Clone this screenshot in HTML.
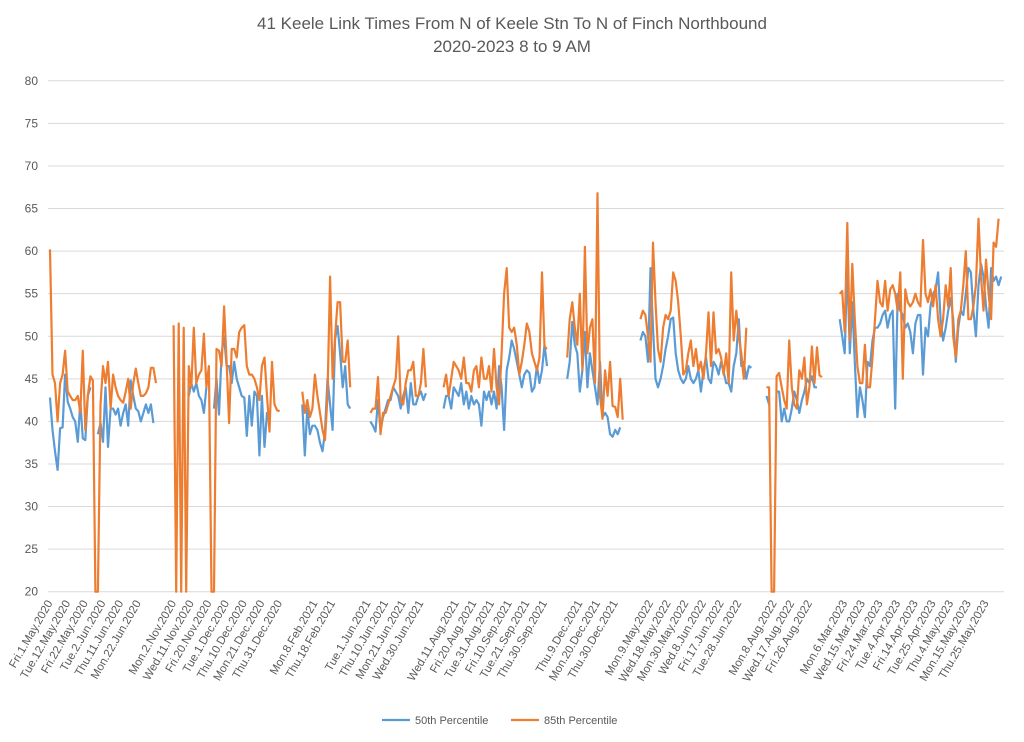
<!DOCTYPE html>
<html><head><meta charset="utf-8"><style>
body{margin:0;background:#fff}
svg{display:block;font-family:"Liberation Sans",sans-serif}
</style></head><body>
<svg id="chart" width="1024" height="742" viewBox="0 0 1024 742">
<rect width="1024" height="742" fill="#fff"/>
<text x="512" y="29" text-anchor="middle" font-size="17" fill="#595959">41 Keele Link Times From N of Keele Stn To N of Finch Northbound</text>
<text x="512" y="52" text-anchor="middle" font-size="17" fill="#595959">2020-2023 8 to 9 AM</text>
<g id="grid"></g><g id="ylabels"></g><g id="xlabels"></g><g id="series"></g>
<g>
<line x1="382" y1="720" x2="410" y2="720" stroke="#5b9bd5" stroke-width="2.2"/>
<text x="415" y="724" font-size="11" fill="#595959">50th Percentile</text>
<line x1="511" y1="720" x2="539" y2="720" stroke="#ed7d31" stroke-width="2.2"/>
<text x="544" y="724" font-size="11" fill="#595959">85th Percentile</text>
</g>
</svg>
<script>
const yTicks=[20,25,30,35,40,45,50,55,60,65,70,75,80];
const xLabels=["Fri.1.May.2020","Tue.12.May.2020","Fri.22.May.2020","Tue.2.Jun.2020","Thu.11.Jun.2020","Mon.22.Jun.2020","Mon.2.Nov.2020","Wed.11.Nov.2020","Fri.20.Nov.2020","Tue.1.Dec.2020","Thu.10.Dec.2020","Mon.21.Dec.2020","Thu.31.Dec.2020","Mon.8.Feb.2021","Thu.18.Feb.2021","Tue.1.Jun.2021","Thu.10.Jun.2021","Mon.21.Jun.2021","Wed.30.Jun.2021","Wed.11.Aug.2021","Fri.20.Aug.2021","Tue.31.Aug.2021","Fri.10.Sep.2021","Tue.21.Sep.2021","Thu.30.Sep.2021","Thu.9.Dec.2021","Mon.20.Dec.2021","Thu.30.Dec.2021","Mon.9.May.2022","Wed.18.May.2022","Mon.30.May.2022","Wed.8.Jun.2022","Fri.17.Jun.2022","Tue.28.Jun.2022","Mon.8.Aug.2022","Wed.17.Aug.2022","Fri.26.Aug.2022","Mon.6.Mar.2023","Wed.15.Mar.2023","Fri.24.Mar.2023","Tue.4.Apr.2023","Fri.14.Apr.2023","Tue.25.Apr.2023","Thu.4.May.2023","Mon.15.May.2023","Thu.25.May.2023"];
const xLabelSlots=[0,1,2,3,4,5,7,8,9,10,11,12,13,15,16,18,19,20,21,23,24,25,26,27,28,30,31,32,34,35,36,37,38,39,41,42,43,45,46,47,48,49,50,51,52,53];
const segStarts=[0,49,100,127,156,205,234,284,313];
const p85=[
[60.2,45.5,44.5,40,44.5,45.5,48.3,43.5,43,42.5,42.5,43,41,48.3,39,43,45.3,44.8,20,20,42,46.5,44.5,47,41.5,45.5,44,43,42.5,42.2,43.5,45,41.5,44.5,46.2,44.5,43,43,43.3,44,46.3,46.3,44.5],
[51.3,20,51.5,20,51,20,46.5,44,51,44.5,45.5,46,50.3,44,46.5,20,20,48.5,48.3,46.5,53.5,47,39.8,48.5,48.5,47.5,50.5,51,51.3,46.5,45.5,45.5,45,44,42.5,46.5,47.5,43,38.8,47,42,41.3,41.2],
[43.5,41,42.5,40.5,41.5,45.5,43,41,39,37.8,43,57,45,50,54,54,47,47,49.5,44],
[41,41.5,41.5,45.2,38.5,41,41,42,43,44,45,50,42.5,42,44.5,46,46,47,43,43,44.5,48.5,44],
[44,45.5,43,45,47,46.5,46,45,47.5,44.5,44.5,43.5,46,46.5,44,47.5,45,45,46.5,43.5,48.5,44,42,48,55,58,51,50.5,51,49,45.5,47,49,51.5,50.5,48,47,46,47.5,57.5,48.8,48.5],
[47.5,52,54,51,49,55,46,60.5,48,51,52,44.5,66.8,43,40.3,46,43,47,41.8,41.7,40.5,45,40.2],
[52,53,52.5,50,47,61,54,48.5,47,51,52.5,52,53,57.5,56.5,54,50,45.5,46,48,49.5,46.5,48.5,46,47,45,48,52.8,46.5,52.8,48,48.5,47.5,45.5,48,44.5,57.5,49.5,53,50,48,45,51],
[44,44,20,20,45.3,45.7,44,42.5,41.5,49.5,44,42,41.5,46,45,47.5,42,44,48.8,44.5,48.7,45.4,45.2],
[55,55.3,50.5,63.3,49.5,58.5,52,46.5,44.5,44.5,49,44,44,47.5,52,56.5,54,53.5,56.5,53,55.5,56,55,53,57.5,45,55.5,54,53.5,54,55,54,53.5,61.3,55,54,55.5,53.5,56,52,50,52,56,53.5,58,50,47.5,52,53,56,60,52,52,53.5,56,63.8,57,53,59,55,52,61,60.5,63.8]
];
const p50=[
[42.8,39,36.5,34.3,39.2,39.3,45.5,42.3,41.5,40.5,40,37.6,42.3,38,37.8,43,44,null,null,38.5,39.8,37.6,44,37,41.5,41.5,40.8,41.5,39.5,41,42,39.5,44.8,43,41.5,41.2,40,41,42,41,42,39.8],
[null,null,null,null,null,null,43,44.5,43.5,44.5,43,42.5,41,44,null,null,41.5,45,40.8,48,50,46.5,46.5,44.5,47,45,44,43,42.8,38.3,43,39.5,43.5,43,36,43,37,41,40.5],
[42,36,41.5,38.5,39.5,39.5,39,37.5,36.5,38.8,45,42,39,49.7,51.2,48,44,46.5,42,41.5],
[40,39.5,38.8,42.5,39,40.5,41.5,42.5,42.5,44,43.5,43,41.5,43,44,41,44.5,42,42,43,43.5,42.5,43.3],
[41.5,43,43,41.5,44,43.5,43,44.5,42,43.5,41.5,43,42,42.5,42,39.5,43.5,42.5,43.5,42,43.5,41.5,46.5,44,39,46,47.5,49.5,48.5,47,45.5,44,45.5,46,45.7,43.5,44,46.5,44.5,46,49,46.5],
[45,47,51.7,49,48,43.5,46,50.5,44,48,46,44,42,47,40.5,41,40.5,38.5,38.2,39,38.5,39.3],
[49.5,50.5,50,47,58,51,45,44,45,46.5,48.5,50,52,52.2,48,46,45,44.5,45,46.5,45,44.5,45,46,43.5,46,47.5,45,44.5,47,46.5,45.5,47,45.8,44.5,44.5,43.5,46.5,48,52,46.5,47,45,46.5,46.3],
[43,42,null,null,43.5,43.5,40,41.5,40,40,41.5,43.5,42.5,41,42.5,43.5,45,44.5,45.3,44,44],
[52,50,48,58.5,48,54,47,40.5,44,42.5,40.5,47,46.5,49.5,51,51,51.5,52.5,53,51,52.5,53,41.5,55,53,52.5,51,51.5,50.5,48,51.5,52.5,52.5,45.5,51,50,53.5,55,55.5,57.5,52,49.5,51,53,54.5,52,47,51,53,52.5,55,58,57.5,53,50,56,58.5,57,53.5,51,58,56.5,57,56,57]
];
const NS="http://www.w3.org/2000/svg";
const plotL=48,plotR=1004,yMin=20,yMax=80,yTop=80.8,yBot=591.7;
function yS(v){return yBot-(v-yMin)/(yMax-yMin)*(yBot-yTop);}
function xS(i){return 50+i*2.523;}
function mk(tag,attrs,parent){const e=document.createElementNS(NS,tag);for(const k in attrs)e.setAttribute(k,attrs[k]);parent.appendChild(e);return e;}
const grid=document.getElementById('grid'),yl=document.getElementById('ylabels'),xl=document.getElementById('xlabels'),ser=document.getElementById('series');
yTicks.forEach(t=>{
  const l=mk('line',{x1:plotL,x2:plotR,y1:yS(t),y2:yS(t),stroke:'#d9d9d9','stroke-width':1},grid);
  
  
  const tx=mk('text',{x:38,y:yS(t)+4,'text-anchor':'end','font-size':12,fill:'#595959'},yl);
  tx.textContent=t;
  
  
});
xLabels.forEach((s,k)=>{
  const x=xS(xLabelSlots[k]*7)+3,y=603;
  const tx=mk('text',{x:x,y:y,'text-anchor':'end','font-size':11.5,fill:'#595959',transform:'rotate(-60 '+x+' '+y+')'},xl);
  tx.textContent=s;
  
  
});
function draw(data,color,name){
  data.forEach((seg,si)=>{
    let d='',pen=false;
    seg.forEach((v,j)=>{
      if(v===null){pen=false;return;}
      const x=xS(segStarts[si]+j).toFixed(1),y=yS(v).toFixed(1);
      d+=(pen?'L':'M')+x+' '+y+' ';pen=true;
    });
    const p=mk('path',{d:d,fill:'none',stroke:color,'stroke-width':2.2,'stroke-linejoin':'round'},ser);
    
    
  });
}
draw(p50,'#5b9bd5','p50-line');
draw(p85,'#ed7d31','p85-line');
</script>
</body></html>
